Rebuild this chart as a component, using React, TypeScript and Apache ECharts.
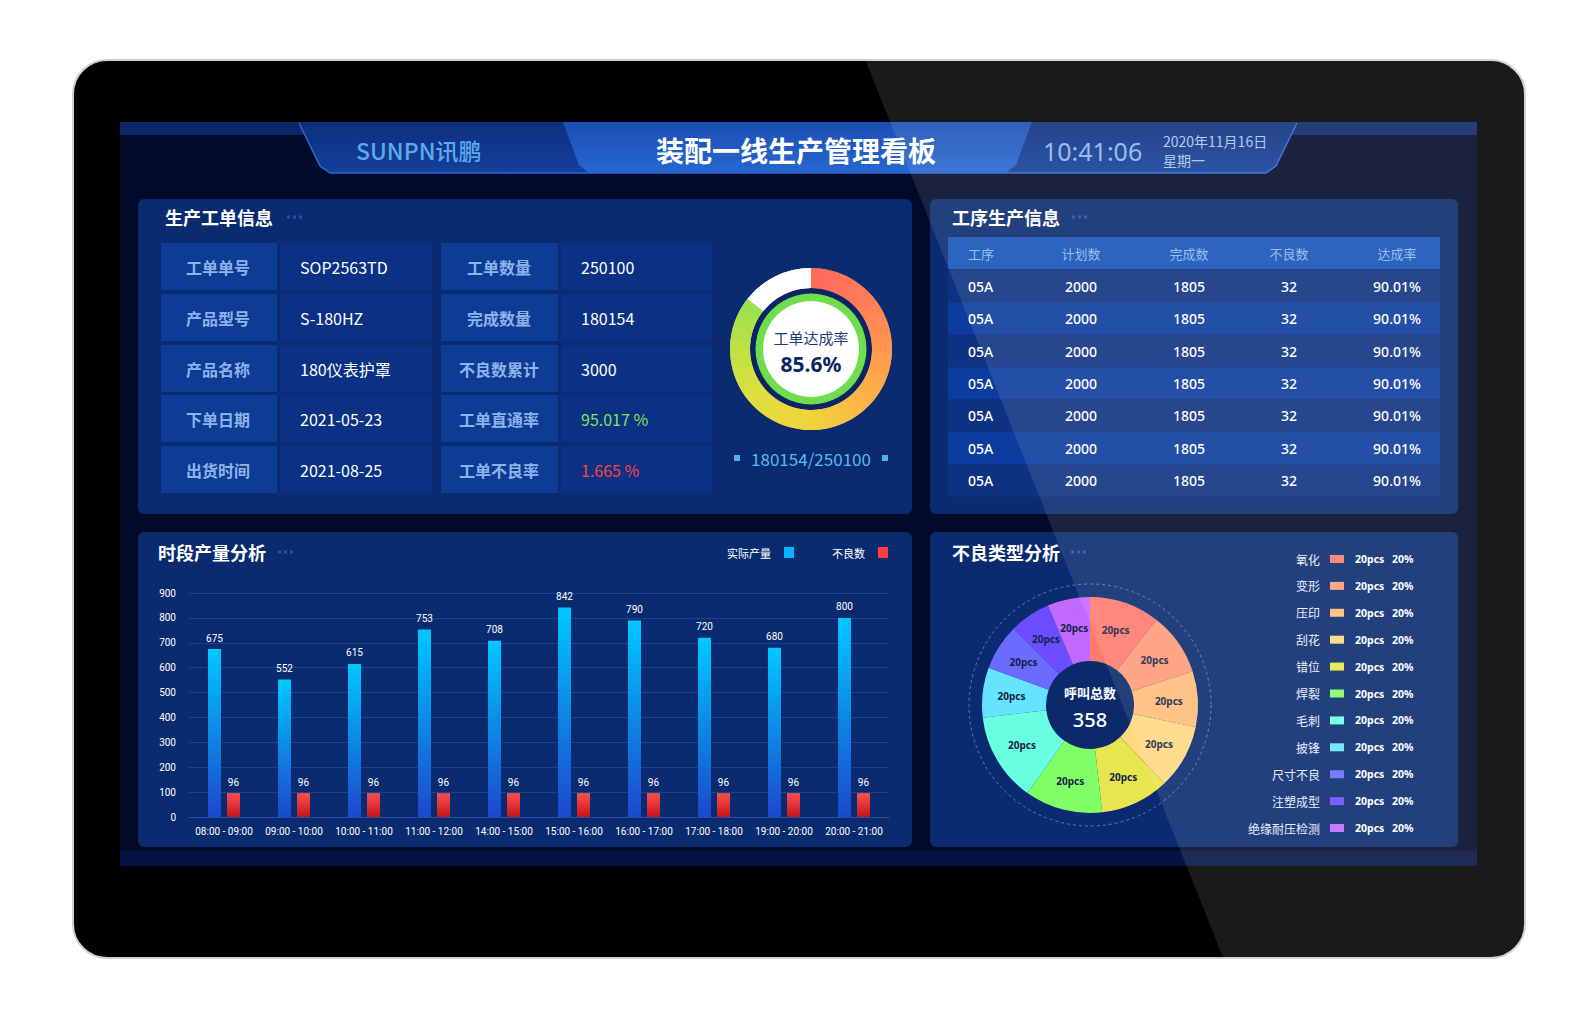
import React, { useEffect, useRef } from 'react';
import * as echarts from 'echarts';

// ---------- header ----------
const brandName = 'SUNPN讯鹏';
const boardTitle = '装配一线生产管理看板';
const clockTime = '10:41:06';
const clockDate = '2020年11月16日';
const clockWeekday = '星期一';

// ---------- panel titles ----------
const panelTitles = ['生产工单信息', '工序生产信息', '时段产量分析', '不良类型分析'];

// ---------- work order info ----------
const orderLabelsLeft = ['工单单号', '产品型号', '产品名称', '下单日期', '出货时间'];
const orderValuesLeft = ['SOP2563TD', 'S-180HZ', '180仪表护罩', '2021-05-23', '2021-08-25'];
const orderLabelsRight = ['工单数量', '完成数量', '不良数累计', '工单直通率', '工单不良率'];
const orderValuesRight = ['250100', '180154', '3000', '95.017 %', '1.665 %'];
const orderValueColorsRight = ['#ffffff', '#ffffff', '#ffffff', '#7ee35c', '#ff4242'];
const completedQty = 180154;
const plannedQty = 250100;
const achieveRate = 85.6;
const achieveLabel = '工单达成率';

// ---------- process table ----------
const processHeaders = ['工序', '计划数', '完成数', '不良数', '达成率'];
const processCodes = ['05A', '05A', '05A', '05A', '05A', '05A', '05A'];
const processPlanned = ['2000', '2000', '2000', '2000', '2000', '2000', '2000'];
const processDone = ['1805', '1805', '1805', '1805', '1805', '1805', '1805'];
const processDefects = ['32', '32', '32', '32', '32', '32', '32'];
const processRates = ['90.01%', '90.01%', '90.01%', '90.01%', '90.01%', '90.01%', '90.01%'];

// ---------- hourly output ----------
const hourSlots = ['08:00 - 09:00', '09:00 - 10:00', '10:00 - 11:00', '11:00 - 12:00', '14:00 - 15:00', '15:00 - 16:00', '16:00 - 17:00', '17:00 - 18:00', '19:00 - 20:00', '20:00 - 21:00'];
const actualOutput = [675, 552, 615, 753, 708, 842, 790, 720, 680, 800];
const defectOutput = [96, 96, 96, 96, 96, 96, 96, 96, 96, 96];
const outputSeriesNames = ['实际产量', '不良数'];
const yMin = 0;
const yMax = 900;
const yStep = 100;

// ---------- defect types ----------
const defectTypes = ['氧化', '变形', '压印', '刮花', '错位', '焊裂', '毛刺', '披锋', '尺寸不良', '注塑成型', '绝缘耐压检测'];
const defectShares = [38, 34, 30, 35, 37, 42, 48, 27, 25, 22, 23];
const defectPcs = [20, 20, 20, 20, 20, 20, 20, 20, 20, 20, 20];
const defectPct = [20, 20, 20, 20, 20, 20, 20, 20, 20, 20, 20];
const defectColors = ['#ff7a6e', '#ff9a76', '#ffbb7a', '#ffd97e', '#e8e64e', '#80ff66', '#6affe0', '#66e4ff', '#6b6bff', '#6b4dff', '#c26aff'];
const callTotalLabel = '呼叫总数';
const callTotal = 358;

const CJK = '"Noto Sans CJK SC", "Noto Sans", sans-serif';
const NARROW = '"Liberation Sans Narrow", "Roboto", sans-serif';

function hexToRgb(h: string) {
  const n = parseInt(h.slice(1), 16);
  return [(n >> 16) & 255, (n >> 8) & 255, n & 255];
}
function colorAt(stops: [number, string][], p: number) {
  for (let i = 1; i < stops.length; i++) {
    if (p <= stops[i][0]) {
      const [p0, c0] = stops[i - 1];
      const [p1, c1] = stops[i];
      const t = Math.max(0, Math.min(1, (p - p0) / (p1 - p0)));
      const a = hexToRgb(c0), b = hexToRgb(c1);
      const c = a.map((v, k) => Math.round(v + (b[k] - v) * t));
      return `rgb(${c[0]},${c[1]},${c[2]})`;
    }
  }
  return stops[stops.length - 1][1];
}

function buildOption() {
  const g: any[] = [];
  const add = (el: any, z = 1) => { el.z = z; g.push(el); };
  const text = (t: string, x: number, y: number, font: string, fill: string, align = 'left', z = 3) =>
    add({ type: 'text', x, y, silent: true, style: { text: t, font, fill, align, textAlign: align, verticalAlign: 'middle', textVerticalAlign: 'middle' } }, z);
  const rect = (x: number, y: number, w: number, h: number, fill: any, r = 0, z = 1, extra: any = {}) =>
    add({ type: 'rect', silent: true, shape: { x, y, width: w, height: h, r }, style: { fill, ...extra } }, z);

  // frame & screen
  rect(73, 60, 1452, 898, '#000000', 34, 1, { stroke: '#cfcfcf', lineWidth: 2 });
  rect(120, 122, 1357, 744, '#010a29');
  rect(120, 851, 1357, 15, '#041343');
  rect(120, 122, 1357, 13, '#0c2869');

  // header
  add({ type: 'polygon', silent: true, shape: { points: [[299, 122], [1297, 122], [1276, 166], [1266, 173], [330, 173], [320, 166]] },
    style: { fill: new echarts.graphic.LinearGradient(0, 0, 0, 1, [{ offset: 0, color: '#0e2f7c' }, { offset: 1, color: '#13409a' }]) } });
  add({ type: 'polygon', silent: true, shape: { points: [[563, 122], [1032, 122], [1016, 165], [1006, 173], [589, 173], [579, 165]] },
    style: { fill: new echarts.graphic.LinearGradient(0, 0, 0, 1, [{ offset: 0, color: '#1a4fb4' }, { offset: 1, color: '#2667d0' }]) } });
  add({ type: 'polyline', silent: true, shape: { points: [[299, 123], [320, 166], [330, 173], [1266, 173], [1276, 166], [1297, 123]] },
    style: { stroke: '#2c6ad0', lineWidth: 1.5, fill: 'none' } });
  text(brandName, 356, 150, `500 23px ${CJK}`, '#5ea8ef');
  text(boardTitle, 796, 150, `bold 28px ${CJK}`, '#ffffff', 'center');
  text(clockTime, 1043, 151, `25px "Noto Sans", sans-serif`, '#8db6ee');
  text(clockDate, 1163, 141, `14px ${CJK}`, '#a9c6f0');
  text(clockWeekday, 1163, 160, `14px ${CJK}`, '#a9c6f0');

  // panels
  const panels = [[138, 199, 774, 315], [930, 199, 528, 315], [138, 532, 774, 315], [930, 532, 528, 315]];
  panels.forEach(p => rect(p[0], p[1], p[2], p[3], '#0a2b70', 6));
  const titlePos = [[165, 217, 287], [952, 217, 1072], [158, 552, 278], [952, 552, 1071]];
  titlePos.forEach((tp, i) => {
    text(panelTitles[i], tp[0], tp[1], `bold 18px ${CJK}`, '#ffffff');
    for (let k = 0; k < 3; k++) rect(tp[2] + k * 6, tp[1] - 1.5, 3, 3, '#2353a6', 0, 2);
  });

  // work order table
  const rowTops = [243, 294, 345, 395, 446];
  const rowH = 47;
  rowTops.forEach((y, i) => {
    rect(161, y, 116, rowH, '#0d3c94', 0, 2);
    rect(280, y, 152, rowH, '#0b3184', 0, 2);
    rect(441, y, 117, rowH, '#0d3c94', 0, 2);
    rect(561, y, 151, rowH, '#0b3184', 0, 2);
    const cy = y + rowH / 2;
    text(orderLabelsLeft[i], 218, cy, `bold 16px ${CJK}`, '#8cb4ec', 'center');
    text(orderValuesLeft[i], 300, cy, `16px ${CJK}`, '#ffffff');
    text(orderLabelsRight[i], 499, cy, `bold 16px ${CJK}`, '#8cb4ec', 'center');
    text(orderValuesRight[i], 581, cy, `16px ${CJK}`, orderValueColorsRight[i]);
  });

  // gauge inner decoration
  const gcx = 811, gcy = 349;
  add({ type: 'circle', silent: true, shape: { cx: gcx, cy: gcy, r: 61 }, style: { fill: '#0a2466' } }, 2);
  add({ type: 'circle', silent: true, shape: { cx: gcx, cy: gcy, r: 55.5 }, style: { fill: '#6fdd4c' } }, 2);
  add({ type: 'circle', silent: true, shape: { cx: gcx, cy: gcy, r: 48 }, style: { fill: '#ffffff' } }, 2);
  text(`${completedQty}/${plannedQty}`, gcx, 458, `17px ${CJK}`, '#5cb6f2', 'center');
  rect(734, 455, 6, 6, '#4fb0f0', 0, 2);
  rect(882, 455, 6, 6, '#4fb0f0', 0, 2);

  // process table
  const tx = 948, tw = 492;
  rect(tx, 237, tw, 32, '#1553b8', 0, 2);
  const colX = [968, 1081, 1189, 1289, 1397];
  const colAlign = ['left', 'center', 'center', 'center', 'center'];
  processHeaders.forEach((h, i) => text(h, colX[i], 253, `13px ${CJK}`, '#8cbaf0', colAlign[i]));
  const pRowH = 32.4;
  processCodes.forEach((code, r) => {
    const y = 270 + r * pRowH;
    rect(tx, y, tw, pRowH, r % 2 === 0 ? '#0e3282' : '#0c3c9e', 0, 2);
    const cy = y + pRowH / 2;
    const vals = [code, processPlanned[r], processDone[r], processDefects[r], processRates[r]];
    vals.forEach((v, i) => text(v, colX[i], cy, `500 14px "Noto Sans", sans-serif`, '#ffffff', colAlign[i]));
  });

  // defect pie decoration
  const pcx = 1090, pcy = 705;
  add({ type: 'circle', silent: true, shape: { cx: pcx, cy: pcy, r: 121 }, style: { fill: 'none', stroke: 'rgba(170,200,245,0.5)', lineWidth: 1, lineDash: [3, 3] } }, 2);
  add({ type: 'circle', silent: true, shape: { cx: pcx, cy: pcy, r: 44 }, style: { fill: '#0b2a6a' } }, 2);
  text(callTotalLabel, pcx, 692, `bold 13px ${CJK}`, '#ffffff', 'center', 20);
  text(String(callTotal), pcx, 719, `500 20px "Noto Sans", sans-serif`, '#ffffff', 'center', 20);

  // defect legend
  defectTypes.forEach((name, i) => {
    const y = 559 + i * 26.9;
    text(name, 1320, y, `12px ${CJK}`, '#e6edff', 'right');
    rect(1330, y - 4, 14, 8, defectColors[i], 0, 3);
    text(`${defectPcs[i]}pcs`, 1355, y, `bold 10.5px "Noto Sans", sans-serif`, '#ffffff');
    text(`${defectPct[i]}%`, 1392, y, `bold 10.5px "Noto Sans", sans-serif`, '#ffffff');
  });

  // glass reflection
  add({ type: 'polygon', silent: true, shape: { points: [[865, 59], [1530, 59], [1530, 960], [1224, 960]] }, style: { fill: 'rgba(255,255,255,0.1)' } }, 100);

  // gauge color steps (two offset layers hide the seams between steps)
  const gradStops: [number, string][] = [[0, '#ff6a5e'], [0.12, '#ff7a58'], [0.3, '#ffa34a'], [0.5, '#f0d43c'], [0.65, '#dde03e'], [0.8, '#aee148'], [0.86, '#98e04e'], [1, '#98e04e']];
  const frac = achieveRate / 100;
  const N = 40;
  const ringTop: [number, string][] = [];
  for (let i = 1; i <= N; i++) ringTop.push([frac * i / N, colorAt(gradStops, frac * (i - 0.5) / N)]);
  ringTop.push([1, '#ffffff']);
  const ringUnder: [number, string][] = [];
  for (let i = 0; i < N; i++) ringUnder.push([frac * (i + 0.5) / N, colorAt(gradStops, frac * i / N)]);
  ringUnder.push([frac, colorAt(gradStops, frac)]);
  ringUnder.push([1, '#ffffff']);

  const gaugeBase = {
    type: 'gauge', center: [gcx, gcy], radius: 81, startAngle: 90, endAngle: -270, min: 0, max: 100,
    pointer: { show: false }, progress: { show: false },
    axisTick: { show: false }, splitLine: { show: false }, axisLabel: { show: false },
  };

  return {
    animation: false,
    backgroundColor: '#ffffff',
    graphic: { elements: g },
    legend: {
      z: 10, left: 727, top: 547, padding: 0, align: 'right', icon: 'rect', itemWidth: 10, itemHeight: 11, itemGap: 38,
      textStyle: { color: '#ffffff', fontSize: 11, fontFamily: CJK, padding: [0, 8, 0, 0] },
      data: [{ name: outputSeriesNames[0], itemStyle: { color: '#00b6ff' } }, { name: outputSeriesNames[1], itemStyle: { color: '#ff3d3d' } }],
    },
    grid: { left: 189, top: 593, width: 700, height: 224, z: 10 },
    xAxis: {
      type: 'category', data: hourSlots, z: 10,
      axisLine: { show: true, lineStyle: { color: 'rgba(45,95,195,0.45)' } },
      axisTick: { show: false },
      axisLabel: { color: '#ffffff', fontSize: 10, margin: 9, interval: 0, fontFamily: NARROW },
    },
    yAxis: {
      type: 'value', min: yMin, max: yMax, interval: yStep, z: 10,
      axisLine: { show: false }, axisTick: { show: false },
      axisLabel: { color: '#ffffff', fontSize: 10, margin: 13, fontFamily: NARROW },
      splitLine: { lineStyle: { color: 'rgba(45,95,195,0.45)' } },
    },
    series: [
      {
        type: 'bar', name: outputSeriesNames[0], data: actualOutput, z: 10, barWidth: 13, barGap: '46%',
        itemStyle: { color: new echarts.graphic.LinearGradient(0, 0, 0, 1, [{ offset: 0, color: '#00c8ff' }, { offset: 1, color: '#1c48cc' }]) },
        label: { show: true, position: 'top', color: '#ffffff', fontSize: 10, distance: 6, fontFamily: NARROW },
      },
      {
        type: 'bar', name: outputSeriesNames[1], data: defectOutput, z: 10, barWidth: 13,
        itemStyle: { color: new echarts.graphic.LinearGradient(0, 0, 0, 1, [{ offset: 0, color: '#ff5050' }, { offset: 1, color: '#c4141a' }]) },
        label: { show: true, position: 'top', color: '#ffffff', fontSize: 10, distance: 6, fontFamily: NARROW },
      },
      {
        ...gaugeBase, z: 9,
        axisLine: { lineStyle: { width: 20, color: ringUnder } },
        title: { show: false }, detail: { show: false },
        data: [{ value: achieveRate, name: achieveLabel }],
      },
      {
        ...gaugeBase, z: 10,
        axisLine: { lineStyle: { width: 20, color: ringTop } },
        title: { offsetCenter: [0, -12], color: '#1d3b7c', fontSize: 15, fontFamily: CJK },
        detail: { offsetCenter: [0, 15], formatter: '{value}%', color: '#0c2562', fontSize: 21, fontWeight: 'bold', fontFamily: '"Noto Sans", sans-serif' },
        data: [{ value: achieveRate, name: achieveLabel }],
      },
      {
        type: 'pie', z: 10, center: [pcx, pcy], radius: [44, 108], startAngle: 90, silent: true,
        emphasis: { disabled: true },
        label: { show: true, position: 'inside', formatter: (p: any) => `${defectPcs[p.dataIndex]}pcs`, color: '#14234a', fontSize: 10, fontWeight: 'bold', fontFamily: '"Noto Sans", sans-serif' },
        labelLine: { show: false },
        data: defectTypes.map((n, i) => ({ name: n, value: defectShares[i], itemStyle: { color: defectColors[i] } })),
      },
    ],
  };
}

export default function App() {
  const ref = useRef<HTMLDivElement>(null);
  useEffect(() => {
    if (!ref.current) return;
    const chart = echarts.init(ref.current, null, { renderer: 'svg' });
    chart.setOption(buildOption() as any);
    return () => chart.dispose();
  }, []);
  return <div ref={ref} style={{ position: 'absolute', left: 0, top: 0, width: 1596, height: 1020, background: '#ffffff' }} />;
}
